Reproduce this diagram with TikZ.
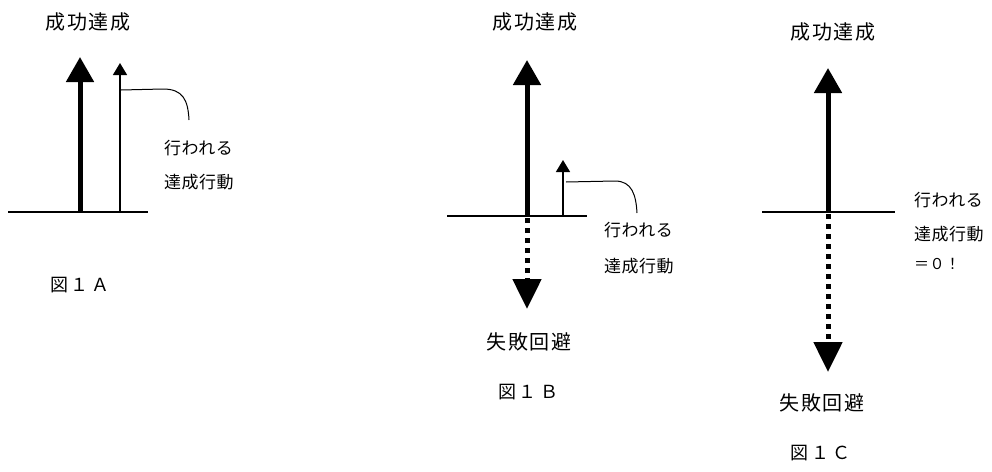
\documentclass[tikz,border=0pt]{standalone}
\usepackage{fontspec}
\newfontfamily\jp[LetterSpace=8]{Noto Sans CJK JP}
\newfontfamily\jpl[LetterSpace=3]{Noto Sans CJK JP}
\usetikzlibrary{arrows.meta,calc}
\tikzset{
  title/.style={font=\jp\fontsize{20}{20}\selectfont, inner sep=0pt},
  lbl/.style={font=\jpl\fontsize{17}{17}\selectfont, inner sep=0pt, anchor=west},
  figlbl/.style={font=\jpl\fontsize{18}{18}\selectfont, inner sep=0pt},
  thickarrow/.style={line width=5pt, -{Triangle[width=27pt,length=25pt]}},
  dotarrow/.style={line width=5pt, dash pattern=on 5pt off 5pt, -{Triangle[width=28pt,length=30pt]}},
  thinarrow/.style={line width=1.3pt, -{Triangle[width=14pt,length=12pt]}},
  thinline/.style={line width=1.2pt},
}
\newcommand{\figlabel}[1]{図\hspace{3pt}１\hspace{3pt}#1}
\begin{document}
\begin{tikzpicture}[x=1pt,y=-1pt]
\useasboundingbox (0,0) rectangle (992,471);
% ---------- Figure A ----------
\node[title] (tA) at (88,22) {成功達成};
\coordinate (a0) at (80,212); \coordinate (a1) at (80,57);
\coordinate (a2) at (120,212); \coordinate (a3) at (120,63);
\coordinate (aL) at (8,212); \coordinate (aR) at (148,212);
\draw[thinline] (aL) -- (aR);
\draw[thickarrow] (a0) -- (a1);
\draw[thinarrow] (a2) -- (a3);
\coordinate (ac0) at (121,90); \coordinate (ac1) at (163,89); \coordinate (ac2) at (189,120);
\draw[line width=1pt] (ac0) -- (ac1) .. controls (183,89) and (188,100) .. (ac2);
\node[lbl] (lA1) at (164,148) {行われる};
\node[lbl] (lA2) at (164,182) {達成行動};
\node[figlbl] (fA) at (80,285) {\figlabel{Ａ}};
% ---------- Figure B ----------
\node[title] (tB) at (535,22) {成功達成};
\coordinate (b0) at (527,216); \coordinate (b1) at (527,60); \coordinate (b2) at (527,309);
\coordinate (b3) at (563,216); \coordinate (b4) at (563,160);
\coordinate (bL) at (447,216); \coordinate (bR) at (587,216);
\draw[thinline] (bL) -- (bR);
\draw[thickarrow] (b0) -- (b1);
\draw[dotarrow] ($(b0)+(0,2)$) -- (b2);
\draw[thinarrow] (b3) -- (b4);
\coordinate (bc0) at (566,182); \coordinate (bc1) at (615,181); \coordinate (bc2) at (637,213);
\draw[line width=1pt] (bc0) -- (bc1) .. controls (632,181) and (636,195) .. (bc2);
\node[lbl] (lB1) at (604,230) {行われる};
\node[lbl] (lB2) at (604,266) {達成行動};
\node[title] (dB) at (529,342) {失敗回避};
\node[figlbl] (fB) at (528,392) {\figlabel{Ｂ}};
% ---------- Figure C ----------
\node[title] (tC) at (833,32) {成功達成};
\coordinate (c0) at (828,212); \coordinate (c1) at (828,68); \coordinate (c2) at (828,372);
\coordinate (cL) at (762,212); \coordinate (cR) at (895,212);
\draw[thinline] (cL) -- (cR);
\draw[thickarrow] (c0) -- (c1);
\draw[dotarrow] ($(c0)+(0,2)$) -- (c2);
\node[lbl] (lC1) at (914,200) {行われる};
\node[lbl] (lC2) at (914,234) {達成行動};
\node[lbl, font=\jpl\fontsize{15}{15}\selectfont] (lC3) at (914,264) {＝０！};
\node[title] (dC) at (822,403) {失敗回避};
\node[figlbl] (fC) at (820,453) {\figlabel{Ｃ}};
\end{tikzpicture}
\end{document}
